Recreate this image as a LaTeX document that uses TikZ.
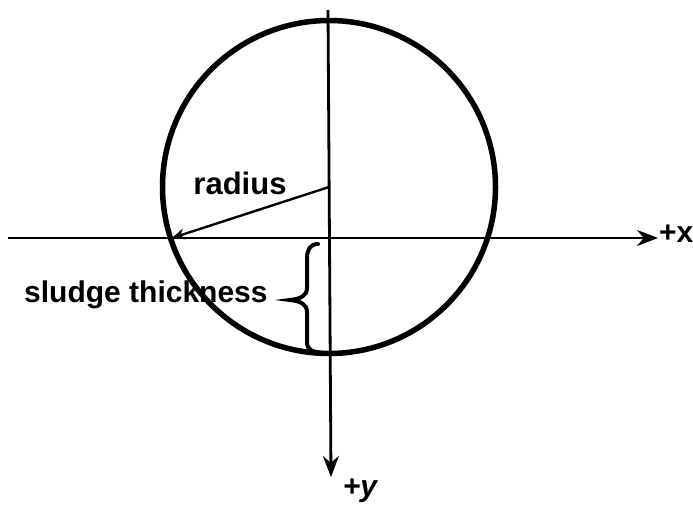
\documentclass[tikz,border=0pt]{standalone}
\usepackage{fontspec}
\setmainfont{Liberation Sans}
\usetikzlibrary{arrows.meta}
\begin{document}
\begin{tikzpicture}[x=1pt,y=-1pt,
  lbl/.style={font=\fontsize{30}{34}\selectfont\bfseries, inner sep=0pt},
  axisline/.style={line width=2.8pt, -{Stealth[length=21pt,width=16pt]}},
  rim/.style={draw, circle, line width=5.5pt, minimum size=333pt, inner sep=0pt}]
\useasboundingbox (0,0) rectangle (693,504);
\node[rim] (c) at (329,187) {};
\coordinate (O) at (329,187);
\coordinate (xs) at (8,238);
\coordinate (xe) at (658,238);
\coordinate (ys) at (328,10);
\coordinate (ye) at (331,477);
\coordinate (rl) at (172,238);
\draw[axisline] (xs) -- (xe);
\draw[axisline] (ys) -- (ye);
\draw[line width=2.4pt, -{Stealth[length=13pt,width=11pt]}] (O) -- (rl);
\draw[line width=4pt, line cap=round]
  (318,244) .. controls (310,244) and (307,250) .. (307,258) -- (307,288)
  .. controls (307,296) and (300,299) .. (290,300)
  .. controls (300,301) and (307,304) .. (307,312) -- (307,342)
  .. controls (307,350) and (312,352) .. (324,353);
\node[lbl, anchor=west] (sl) at (24,295) {sludge thickness};
\node[lbl, font=\fontsize{31}{34}\selectfont\bfseries] (ra) at (240,183) {radius};
\node[lbl, anchor=west] (px) at (659,234) {+x};
\node[lbl, font=\fontsize{30}{34}\selectfont\bfseries\itshape] (py) at (360,491) {+y};
\end{tikzpicture}
\end{document}
